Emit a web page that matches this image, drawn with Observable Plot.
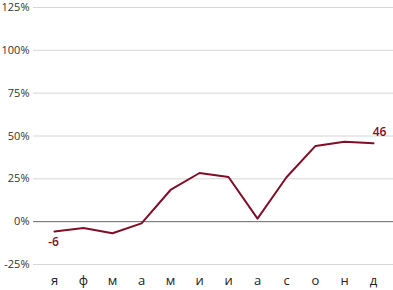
<!DOCTYPE html>
<html>
<head>
<meta charset="utf-8">
<script src="https://cdn.jsdelivr.net/npm/d3@7"></script>
<script src="https://cdn.jsdelivr.net/npm/@observablehq/plot@0.6"></script>
<style>
  html, body { margin: 0; padding: 0; background: #fff; }
  #chart svg { display: block; }
</style>
</head>
<body>
<div id="chart"></div>
<script>
const months = ["я", "ф", "м", "а", "м", "и", "и", "а", "с", "о", "н", "д"];
const values = [-5.8, -3.7, -6.8, -1, 18.5, 28.4, 26.1, 1.8, 25.9, 44.2, 46.7, 45.7];
const yTicks = [-25, 0, 25, 50, 75, 100, 125];
const labelFirst = "-6";
const labelLast = "46";

const data = values.map((v, i) => ({i, v}));
const color = "#7d0f27";

const chart = Plot.plot({
  width: 393,
  height: 290,
  marginTop: 7,
  marginBottom: 26,
  marginLeft: 33,
  marginRight: 0,
  style: {fontFamily: "'Open Sans', sans-serif", fontSize: "11px", color: "#333", background: "#fff"},
  x: {type: "point", domain: d3.range(months.length), range: [50.5, 376], padding: 0, label: null},
  y: {domain: [-25, 125], label: null},
  marks: [
    Plot.gridY(yTicks.filter(d => d !== 0), {stroke: "#d6d6d6", strokeOpacity: 1, strokeWidth: 1}),
    Plot.ruleY([0], {stroke: "#666", strokeWidth: 1}),
    Plot.axisY(yTicks, {tickSize: 0, tickPadding: 4, tickFormat: d => d + "%", fontSize: 11, fill: "#333", label: null}),
    Plot.axisX(d3.range(months.length), {tickSize: 0, tickPadding: 11, tickFormat: i => months[i], fontSize: 13, fill: "#222", label: null}),
    Plot.line(data, {x: "i", y: "v", stroke: color, strokeWidth: 2}),
    Plot.text([data[0]], {x: "i", y: "v", text: () => labelFirst, dy: 11, dx: -1, fill: color, fontSize: 12, fontWeight: 600}),
    Plot.text([data[data.length - 1]], {x: "i", y: "v", text: () => labelLast, dy: -11, dx: 6, fill: color, fontSize: 12, fontWeight: 600})
  ]
});
document.getElementById("chart").appendChild(chart);
</script>
</body>
</html>
